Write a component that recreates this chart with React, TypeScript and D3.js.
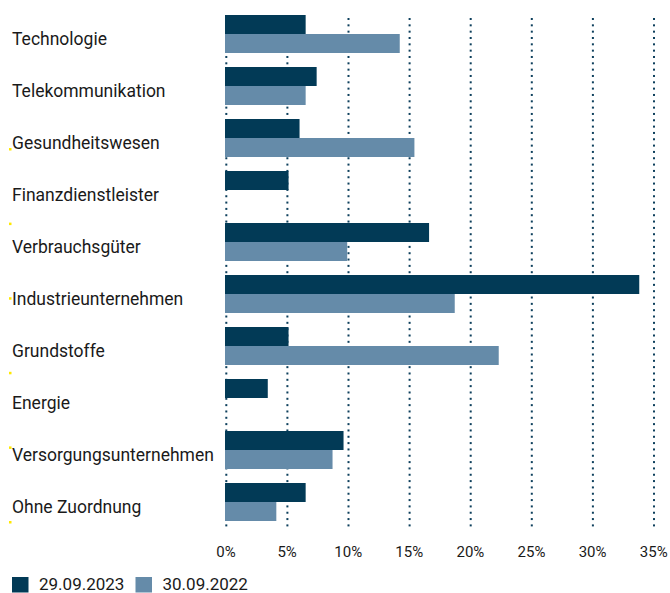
import React from "react";
import * as d3 from "d3";

const categories = [
  "Technologie",
  "Telekommunikation",
  "Gesundheitswesen",
  "Finanzdienstleister",
  "Verbrauchsgüter",
  "Industrieunternehmen",
  "Grundstoffe",
  "Energie",
  "Versorgungsunternehmen",
  "Ohne Zuordnung",
];
const series2023 = [6.6, 7.5, 6.1, 5.2, 16.7, 33.9, 5.2, 3.5, 9.7, 6.6];
const series2022 = [14.3, 6.6, 15.5, 0, 10.0, 18.8, 22.4, 0, 8.8, 4.2];
const seriesNames = ["29.09.2023", "30.09.2022"];
const seriesColors = ["#023a56", "#658ba9"];
const ticks = [0, 5, 10, 15, 20, 25, 30, 35];
const markerCount = 6;

const W = 670;
const H = 593;
const FONT = "Roboto, 'DejaVu Sans', sans-serif";

export default function App() {
  const x = d3.scaleLinear().domain([0, 35]).range([225, 652.7]);
  const y = d3.scaleBand<string>().domain(categories).range([8, 528]).paddingInner(14 / 52).paddingOuter(7 / 52);
  const bw = y.bandwidth() / 2;
  const dotY = d3.range(18, 530, 6.33);
  const markerY = d3.scaleLinear().domain([0, markerCount - 1]).range([148, 521]);

  return (
    <svg width={W} height={H} style={{ position: "absolute", left: 0, top: 0, display: "block" }} fontFamily={FONT}>
      {ticks.map((t) => (
        <g key={t}>
          {dotY.map((dy, i) => (
            <rect key={i} x={x(t) + 0.3} y={dy} width={2} height={2} fill="#0d3f5c" />
          ))}
        </g>
      ))}
      {categories.map((c, i) => {
        const y0 = y(c)!;
        return (
          <g key={c}>
            {series2023[i] > 0 && (
              <rect x={x(0)} y={y0} width={x(series2023[i]) - x(0)} height={bw} fill={seriesColors[0]} />
            )}
            {series2022[i] > 0 && (
              <rect x={x(0)} y={y0 + bw} width={x(series2022[i]) - x(0)} height={bw} fill={seriesColors[1]} />
            )}
            <text x={12} y={y0 + 30} fontSize={17.5} fill="#1a1a1a">
              {c}
            </text>
          </g>
        );
      })}
      {d3.range(markerCount).map((i) => (
        <rect key={i} x={9} y={markerY(i)} width={2.5} height={2.5} fill="#ffe800" />
      ))}
      {ticks.map((t) => (
        <text key={t} x={x(t) + 1} y={557} fontSize={15} textAnchor="middle" fill="#1a1a1a">
          {t}%
        </text>
      ))}
      {seriesNames.map((n, i) => {
        const lx = i === 0 ? 12 : 135.5;
        return (
          <g key={n}>
            <rect x={lx} y={577} width={16.5} height={15.5} fill={seriesColors[i]} />
            <text x={lx + 27} y={590} fontSize={17} fill="#1a1a1a">
              {n}
            </text>
          </g>
        );
      })}
    </svg>
  );
}
